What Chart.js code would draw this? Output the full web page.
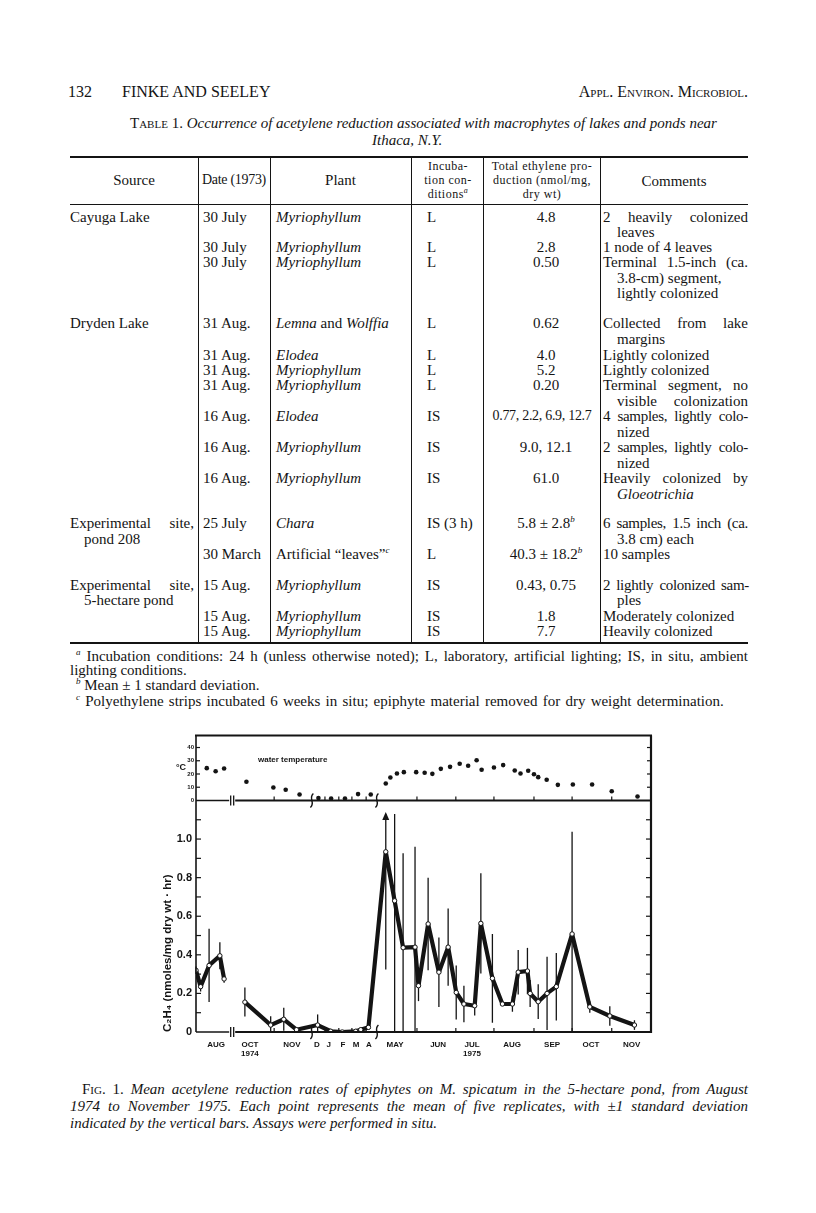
<!DOCTYPE html>
<html>
<head>
<meta charset="utf-8">
<script src="https://cdn.jsdelivr.net/npm/chart.js@4.4.0/dist/chart.umd.min.js"></script>
<style>
    html, body { margin: 0; padding: 0; background: #fff; }
    #page { position: relative; width: 816px; height: 1213px; overflow: hidden; color: #141414;
            font-family: "Liberation Serif", "DejaVu Serif", serif; }
    .l { position: absolute; white-space: nowrap; font-size: 15px; line-height: 16px; }
    .i { font-style: italic; }
    .j { white-space: normal; text-align: justify; text-align-last: justify; }
    .c { text-align: center; }
    .sc { font-variant: small-caps; }
    .h { font-size: 12px; line-height: 13px; letter-spacing: 0.5px; }
    .tight { letter-spacing: -0.3px; }
    .rule { position: absolute; background: #141414; }
    sup { font-size: 9px; line-height: 0; vertical-align: 6px; font-style: italic; }
    .h sup { font-size: 8px; vertical-align: 5px; }
    #fig { position: absolute; left: 140px; top: 725px; width: 530px; height: 340px; }
</style>
</head>
<body>
<div id="page">
    <!-- running head -->
    <div class="l" style="left:68px;top:83px;font-size:16px;line-height:18px">132</div>
    <div class="l" style="left:122px;top:83px;font-size:16px;line-height:18px">FINKE AND SEELEY</div>
    <div class="l sc" style="right:68px;top:83px;font-size:16px;line-height:18px">Appl. Environ. Microbiol.</div>

    <!-- table caption -->
    <div class="l" style="left:130px;top:115px"><span class="sc">Table</span> 1. <span class="i">Occurrence of acetylene reduction associated with macrophytes of lakes and ponds near</span></div>
    <div class="l i" style="left:372px;top:132px">Ithaca, N.Y.</div>

    <!-- table rules -->
    <div class="rule" style="left:70px;top:156px;width:678px;height:2px"></div>
    <div class="rule" style="left:70px;top:204px;width:678px;height:1px"></div>
    <div class="rule" style="left:70px;top:642px;width:678px;height:2px"></div>
    <div class="rule" style="left:198px;top:157px;width:1px;height:486px"></div>
    <div class="rule" style="left:270px;top:157px;width:1px;height:486px"></div>
    <div class="rule" style="left:411px;top:157px;width:1px;height:486px"></div>
    <div class="rule" style="left:483px;top:157px;width:1px;height:486px"></div>
    <div class="rule" style="left:600px;top:157px;width:1px;height:486px"></div>

    <!-- header row -->
    <div class="l c" style="left:70px;width:128px;top:172px">Source</div>
    <div class="l c tight" style="left:198px;width:72px;top:172px;font-size:14px">Date (1973)</div>
    <div class="l c" style="left:270px;width:141px;top:172px">Plant</div>
    <div class="l c h" style="left:418px;width:60px;top:160px">Incuba-</div>
    <div class="l c h" style="left:418px;width:60px;top:174px">tion con-</div>
    <div class="l c h" style="left:418px;width:60px;top:188px">ditions<sup>a</sup></div>
    <div class="l c h" style="left:484px;width:116px;top:160px">Total ethylene pro-</div>
    <div class="l c h" style="left:484px;width:116px;top:174px">duction (nmol/mg,</div>
    <div class="l c h" style="left:484px;width:116px;top:188px">dry wt)</div>
    <div class="l c" style="left:600px;width:148px;top:173px">Comments</div>

    <!-- Cayuga Lake -->
    <div class="l" style="left:70px;top:209px">Cayuga Lake</div>
    <div class="l" style="left:203px;top:209px">30 July</div>
    <div class="l i" style="left:276px;top:209px">Myriophyllum</div>
    <div class="l" style="left:427px;top:209px">L</div>
    <div class="l c" style="left:488px;width:116px;top:209px">4.8</div>
    <div class="l j" style="left:603px;width:145px;top:209px">2 heavily colonized</div>
    <div class="l" style="left:617px;top:224px">leaves</div>

    <div class="l" style="left:203px;top:239px">30 July</div>
    <div class="l i" style="left:276px;top:239px">Myriophyllum</div>
    <div class="l" style="left:427px;top:239px">L</div>
    <div class="l c" style="left:488px;width:116px;top:239px">2.8</div>
    <div class="l" style="left:603px;top:239px">1 node of 4 leaves</div>

    <div class="l" style="left:203px;top:254px">30 July</div>
    <div class="l i" style="left:276px;top:254px">Myriophyllum</div>
    <div class="l" style="left:427px;top:254px">L</div>
    <div class="l c" style="left:488px;width:116px;top:254px">0.50</div>
    <div class="l j" style="left:603px;width:145px;top:254px">Terminal 1.5-inch (ca.</div>
    <div class="l" style="left:617px;top:270px">3.8-cm) segment,</div>
    <div class="l" style="left:617px;top:285px">lightly colonized</div>

    <!-- Dryden Lake -->
    <div class="l" style="left:70px;top:315px">Dryden Lake</div>
    <div class="l" style="left:203px;top:315px">31 Aug.</div>
    <div class="l" style="left:276px;top:315px"><i>Lemna</i> and <i>Wolffia</i></div>
    <div class="l" style="left:427px;top:315px">L</div>
    <div class="l c" style="left:488px;width:116px;top:315px">0.62</div>
    <div class="l j" style="left:603px;width:145px;top:315px">Collected from lake</div>
    <div class="l" style="left:617px;top:331px">margins</div>

    <div class="l" style="left:203px;top:347px">31 Aug.</div>
    <div class="l i" style="left:276px;top:347px">Elodea</div>
    <div class="l" style="left:427px;top:347px">L</div>
    <div class="l c" style="left:488px;width:116px;top:347px">4.0</div>
    <div class="l" style="left:603px;top:347px">Lightly colonized</div>

    <div class="l" style="left:203px;top:362px">31 Aug.</div>
    <div class="l i" style="left:276px;top:362px">Myriophyllum</div>
    <div class="l" style="left:427px;top:362px">L</div>
    <div class="l c" style="left:488px;width:116px;top:362px">5.2</div>
    <div class="l" style="left:603px;top:362px">Lightly colonized</div>

    <div class="l" style="left:203px;top:377px">31 Aug.</div>
    <div class="l i" style="left:276px;top:377px">Myriophyllum</div>
    <div class="l" style="left:427px;top:377px">L</div>
    <div class="l c" style="left:488px;width:116px;top:377px">0.20</div>
    <div class="l j" style="left:603px;width:145px;top:377px">Terminal segment, no</div>
    <div class="l j" style="left:617px;width:131px;top:393px">visible colonization</div>

    <div class="l" style="left:203px;top:408px">16 Aug.</div>
    <div class="l i" style="left:276px;top:408px">Elodea</div>
    <div class="l" style="left:427px;top:408px">IS</div>
    <div class="l c tight" style="left:486px;width:112px;top:408px;font-size:14px">0.77, 2.2, 6.9, 12.7</div>
    <div class="l j tight" style="left:603px;width:145px;top:408px">4 samples, lightly colo-</div>
    <div class="l" style="left:617px;top:424px">nized</div>

    <div class="l" style="left:203px;top:439px">16 Aug.</div>
    <div class="l i" style="left:276px;top:439px">Myriophyllum</div>
    <div class="l" style="left:427px;top:439px">IS</div>
    <div class="l c" style="left:488px;width:116px;top:439px">9.0, 12.1</div>
    <div class="l j tight" style="left:603px;width:145px;top:439px">2 samples, lightly colo-</div>
    <div class="l" style="left:617px;top:455px">nized</div>

    <div class="l" style="left:203px;top:470px">16 Aug.</div>
    <div class="l i" style="left:276px;top:470px">Myriophyllum</div>
    <div class="l" style="left:427px;top:470px">IS</div>
    <div class="l c" style="left:488px;width:116px;top:470px">61.0</div>
    <div class="l j" style="left:603px;width:145px;top:470px">Heavily colonized by</div>
    <div class="l i" style="left:617px;top:486px">Gloeotrichia</div>

    <!-- pond 208 -->
    <div class="l j" style="left:70px;width:124px;top:515px">Experimental site,</div>
    <div class="l" style="left:84px;top:531px">pond 208</div>
    <div class="l" style="left:203px;top:515px">25 July</div>
    <div class="l i" style="left:276px;top:515px">Chara</div>
    <div class="l" style="left:427px;top:515px">IS (3 h)</div>
    <div class="l c" style="left:488px;width:116px;top:515px">5.8 ± 2.8<sup>b</sup></div>
    <div class="l j tight" style="left:603px;width:145px;top:515px">6 samples, 1.5 inch (ca.</div>
    <div class="l" style="left:617px;top:531px">3.8 cm) each</div>

    <div class="l" style="left:203px;top:546px">30 March</div>
    <div class="l" style="left:276px;top:546px">Artificial “leaves”<sup>c</sup></div>
    <div class="l" style="left:427px;top:546px">L</div>
    <div class="l c" style="left:488px;width:116px;top:546px">40.3 ± 18.2<sup>b</sup></div>
    <div class="l" style="left:603px;top:546px">10 samples</div>

    <!-- 5-hectare pond -->
    <div class="l j" style="left:70px;width:124px;top:577px">Experimental site,</div>
    <div class="l" style="left:84px;top:592px">5-hectare pond</div>
    <div class="l" style="left:203px;top:577px">15 Aug.</div>
    <div class="l i" style="left:276px;top:577px">Myriophyllum</div>
    <div class="l" style="left:427px;top:577px">IS</div>
    <div class="l c" style="left:488px;width:116px;top:577px">0.43, 0.75</div>
    <div class="l j tight" style="left:603px;width:146px;top:577px">2 lightly colonized sam-</div>
    <div class="l" style="left:617px;top:592px">ples</div>

    <div class="l" style="left:203px;top:608px">15 Aug.</div>
    <div class="l i" style="left:276px;top:608px">Myriophyllum</div>
    <div class="l" style="left:427px;top:608px">IS</div>
    <div class="l c" style="left:488px;width:116px;top:608px">1.8</div>
    <div class="l" style="left:603px;top:608px">Moderately colonized</div>

    <div class="l" style="left:203px;top:623px">15 Aug.</div>
    <div class="l i" style="left:276px;top:623px">Myriophyllum</div>
    <div class="l" style="left:427px;top:623px">IS</div>
    <div class="l c" style="left:488px;width:116px;top:623px">7.7</div>
    <div class="l" style="left:603px;top:623px">Heavily colonized</div>

    <!-- footnotes -->
    <div class="l j" style="left:76px;width:672px;top:648px"><sup>a</sup> Incubation conditions: 24 h (unless otherwise noted); L, laboratory, artificial lighting; IS, in situ, ambient</div>
    <div class="l" style="left:70px;top:662px">lighting conditions.</div>
    <div class="l" style="left:76px;top:677px"><sup>b</sup> Mean ± 1 standard deviation.</div>
    <div class="l" style="left:76px;top:693px;word-spacing:1.5px"><sup>c</sup> Polyethylene strips incubated 6 weeks in situ; epiphyte material removed for dry weight determination.</div>

    <!-- figure -->
    <div id="fig"><canvas id="rateChart" width="530" height="340"></canvas></div>

    <!-- figure caption -->
    <div class="l j" style="left:82px;width:666px;top:1081px"><span class="sc">Fig.</span> 1. <span class="i">Mean acetylene reduction rates of epiphytes on M. spicatum in the 5-hectare pond, from August</span></div>
    <div class="l j i" style="left:70px;width:678px;top:1098px">1974 to November 1975. Each point represents the mean of five replicates, with ±1 standard deviation</div>
    <div class="l i" style="left:70px;top:1115px">indicated by the vertical bars. Assays were performed in situ.</div>
</div>

<script>
// x values are positions on the drawn time axis, in month widths from 1 Aug 1974
// (September 1974 is cut out at the "||" and December-April are squeezed)
const monthLabels = [['AUG'], ['OCT', '1974'], ['NOV'], ['D'], ['J'], ['F'], ['M'], ['A'],
                     ['MAY'], ['JUN'], ['JUL', '1975'], ['AUG'], ['SEP'], ['OCT'], ['NOV']];
const monthLabelAt = [0.52, 1.40, 2.49, 3.14, 3.45, 3.82, 4.16, 4.49,
                      5.17, 6.29, 7.17, 8.21, 9.25, 10.26, 11.32];
const monthEdges = [2.03, 3.35, 3.71, 4.05, 4.42, 5.74, 6.75, 7.74, 8.78, 9.77, 10.80];
const gapAt = 0.94;
const squiggleAt = [3.01, 4.70];

// water temperature, deg C
const tempX = [0.28, 0.51, 0.73, 1.31, 2.01, 2.33, 2.69, 3.18, 3.51, 3.87, 4.21, 4.54,
               4.93, 5.05, 5.22, 5.40, 5.72, 5.94, 6.14, 6.36, 6.60, 6.85, 7.07, 7.29,
               7.42, 7.74, 7.98, 8.28, 8.43, 8.63, 8.78, 8.89, 9.11, 9.40, 9.79, 10.29,
               10.80, 11.47];
const tempC = [24.4, 22.1, 24.2, 14.1, 9.8, 8.1, 4.5, 1.8, 1.5, 1.5, 4.8, 4.5,
               12.8, 17.4, 20.4, 21.4, 21.4, 20.9, 20.1, 23.9, 25.4, 27.7, 26.2, 30.4,
               23.2, 24.9, 26.7, 22.6, 20.4, 22.4, 19.8, 17.6, 15.6, 11.8, 12.1, 12.1,
               7.0, 3.0];

// C2H4 production, nmoles/mg dry wt per hr (null = no data across the break)
const rateX = [0.00, 0.12, 0.34, 0.62, 0.73, 1.00, 1.27, 1.94, 2.28, 2.61, 3.16,
               3.50, 3.80, 4.15, 4.28, 4.48, 4.93, 5.16, 5.38, 5.69, 5.78,
               6.03, 6.31, 6.55, 6.76, 6.96, 7.24, 7.40, 7.70, 7.96, 8.22,
               8.37, 8.61, 8.68, 8.89, 9.12, 9.36, 9.77, 10.23, 10.75, 11.39];
const rateMean = [0.32, 0.235, 0.345, 0.395, 0.275, null, 0.155, 0.036, 0.066, 0.012, 0.036,
                  0.004, 0.0, 0.004, 0.012, 0.024, 0.934, 0.68, 0.437, 0.44, 0.24,
                  0.56, 0.31, 0.44, 0.205, 0.145, 0.136, 0.563, 0.278, 0.145, 0.145,
                  0.31, 0.316, 0.20, 0.157, 0.20, 0.235, 0.508, 0.13, 0.083, 0.036];
const rateSd = [0.02, 0.025, 0.19, 0.07, 0.02, null, 0.075, 0.045, 0.06, 0, 0.055,
                0, 0, 0, 0, 0, 0.61, 0.68, 0.49, 0.52, 0.08,
                0.24, 0.18, 0.2, 0.14, 0.095, 0.05, 0.26, 0.23, 0, 0.04,
                0.115, 0.12, 0.07, 0.09, 0.19, 0.175, 0.53, 0.03, 0.05, 0.025];

const rateTicks = [0, 0.2, 0.4, 0.6, 0.8, 1.0];
const tempTicks = [0, 10, 20, 30, 40];
const barTop = 1.13;      // bars are cut here; the ones running off the scale get an arrow
const offScale = 1.5;

const ink = '#141414';
const sans = '"Liberation Sans", "DejaVu Sans", sans-serif';

// error bars go under the line and the open circles
const errorBars = {
    id: 'errorBars',
    beforeDatasetsDraw(chart) {
        const { ctx, scales: { x, y } } = chart;
        ctx.save();
        ctx.strokeStyle = ink;
        ctx.fillStyle = ink;
        ctx.lineWidth = 1.3;
        rateX.forEach((v, i) => {
            if (rateMean[i] == null || !rateSd[i]) return;
            const px = x.getPixelForValue(v);
            const lo = y.getPixelForValue(Math.max(0, rateMean[i] - rateSd[i]));
            const hi = y.getPixelForValue(Math.min(barTop, rateMean[i] + rateSd[i]));
            ctx.beginPath();
            ctx.moveTo(px, lo);
            ctx.lineTo(px, hi);
            ctx.stroke();
            if (rateMean[i] + rateSd[i] > offScale) {
                ctx.beginPath();
                ctx.moveTo(px, hi - 2);
                ctx.lineTo(px - 3.5, hi + 6);
                ctx.lineTo(px + 3.5, hi + 6);
                ctx.closePath();
                ctx.fill();
            }
        });
        ctx.restore();
    }
};

// the printed frame: box, the two broken baselines, inward ticks, break marks, labels
const paperFrame = {
    id: 'paperFrame',
    afterDraw(chart) {
        const { ctx, chartArea: a, scales: { x, y, yT } } = chart;
        const seg = (x1, y1, x2, y2, w) => {
            ctx.lineWidth = w;
            ctx.beginPath();
            ctx.moveTo(x1, y1);
            ctx.lineTo(x2, y2);
            ctx.stroke();
        };
        ctx.save();
        ctx.strokeStyle = ink;
        ctx.fillStyle = ink;

        seg(a.left - 1, a.top, a.right + 1, a.top, 2);
        seg(a.left, a.top, a.left, a.bottom, 1.6);
        seg(a.right, a.top, a.right, a.bottom + 1, 2.2);

        const gx = x.getPixelForValue(gapAt);
        [yT.getPixelForValue(0), a.bottom].forEach(h => {
            seg(a.left, h, gx - 3, h, 1.6);
            seg(gx + 3, h, a.right, h, 2);
            seg(gx - 1.5, h - 5, gx - 1.5, h + 5, 1.3);
            seg(gx + 1.5, h - 5, gx + 1.5, h + 5, 1.3);
            monthEdges.forEach(m => {
                const px = x.getPixelForValue(m);
                seg(px, h, px, h - 4, 1.2);
            });
            squiggleAt.forEach(s => {
                const px = x.getPixelForValue(s);
                ctx.lineWidth = 1.4;
                ctx.beginPath();
                ctx.moveTo(px + 1.5, h - 7);
                ctx.bezierCurveTo(px - 4, h - 2, px + 4, h + 2, px - 1.5, h + 7);
                ctx.stroke();
            });
        });

        for (let k = 1; k <= 11; k++) {
            const py = y.getPixelForValue(k / 10);
            seg(a.left, py, a.left + 5, py, 1.2);
            seg(a.right, py, a.right - 5, py, 1.2);
        }
        tempTicks.slice(1).forEach(t => {
            const py = yT.getPixelForValue(t);
            seg(a.left, py, a.left + 4, py, 1.2);
            seg(a.right, py, a.right - 4, py, 1.2);
        });

        ctx.textBaseline = 'middle';
        ctx.textAlign = 'right';
        ctx.font = 'bold 9px ' + sans;
        ctx.fillText('°C', a.left - 10, yT.getPixelForValue(25));
        ctx.textAlign = 'left';
        ctx.font = 'bold 8px ' + sans;
        ctx.fillText('water temperature', x.getPixelForValue(1.61), yT.getPixelForValue(31));
        ctx.restore();
    }
};

const ctx = document.getElementById('rateChart').getContext('2d');

new Chart(ctx, {
    type: 'line',
    data: {
        datasets: [
            {
                type: 'scatter',
                label: 'water temperature',
                data: tempX.map((v, i) => ({ x: v, y: tempC[i] })),
                yAxisID: 'yT',
                pointRadius: 2.3,
                pointBackgroundColor: ink,
                pointBorderColor: ink,
                pointBorderWidth: 0
            },
            {
                label: 'C2H4',
                data: rateX.map((v, i) => ({ x: v, y: rateMean[i] })),
                yAxisID: 'y',
                borderColor: ink,
                borderWidth: 4.2,
                borderJoinStyle: 'round',
                tension: 0,
                spanGaps: false,
                pointRadius: 2.2,
                pointBackgroundColor: '#fff',
                pointBorderColor: ink,
                pointBorderWidth: 1
            }
        ]
    },
    options: {
        responsive: false,
        animation: false,
        devicePixelRatio: 1,
        layout: { padding: { top: 10, right: 19, bottom: 0, left: 0 } },
        plugins: {
            legend: { display: false },
            tooltip: { enabled: false }
        },
        scales: {
            x: {
                type: 'linear',
                min: 0,
                max: 11.82,
                grid: { display: false, drawTicks: false },
                border: { display: false },
                afterBuildTicks: s => { s.ticks = monthLabelAt.map(value => ({ value })); },
                afterFit: s => { s.height = 33; },
                ticks: {
                    autoSkip: false,
                    maxRotation: 0,
                    padding: 8,
                    color: ink,
                    font: { family: sans, size: 8, weight: 'bold', lineHeight: 1.15 },
                    callback: (v, i) => monthLabels[i]
                }
            },
            y: {
                position: 'left',
                stack: 'panels',
                stackWeight: 232,
                min: 0,
                max: 1.2,
                grid: { display: false, drawTicks: false },
                border: { display: false },
                afterBuildTicks: s => { s.ticks = rateTicks.map(value => ({ value })); },
                afterFit: s => { s.width = 56; },
                ticks: {
                    autoSkip: false,
                    padding: 4,
                    color: ink,
                    font: { family: sans, size: 11, weight: 'bold' },
                    callback: v => (v === 0 ? '0' : v.toFixed(1))
                },
                title: {
                    display: true,
                    text: 'C₂H₄ (nmoles/mg dry wt · hr)',
                    align: 'start',
                    color: ink,
                    padding: { top: 21, bottom: 0 },
                    font: { family: sans, size: 11.5, weight: 'bold' }
                }
            },
            yT: {
                position: 'left',
                stack: 'panels',
                stackWeight: 65,
                min: 0,
                max: 49,
                grid: { display: false, drawTicks: false },
                border: { display: false },
                afterBuildTicks: s => { s.ticks = tempTicks.map(value => ({ value })); },
                afterFit: s => { s.width = 56; },
                ticks: {
                    autoSkip: false,
                    padding: 2,
                    color: ink,
                    font: { family: sans, size: 6, weight: 'bold' }
                }
            }
        }
    },
    plugins: [errorBars, paperFrame]
});
</script>
</body>
</html>
